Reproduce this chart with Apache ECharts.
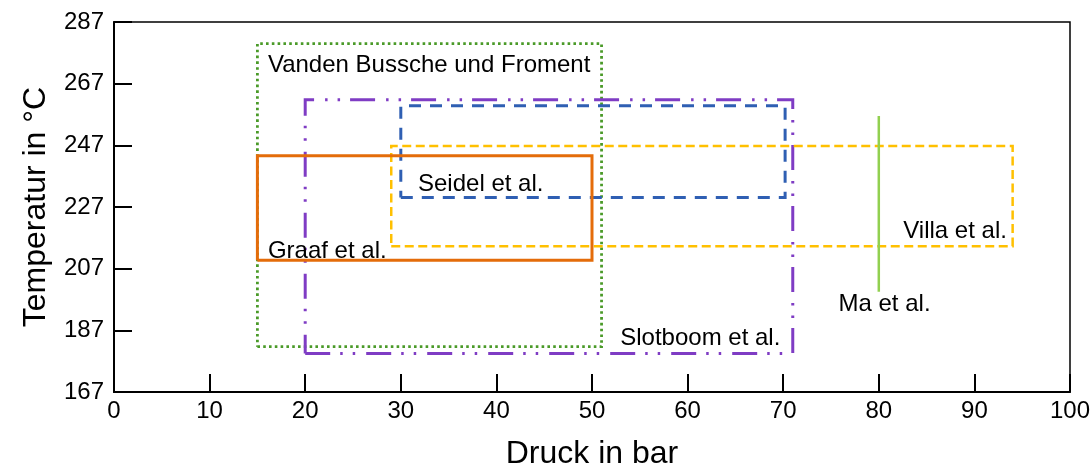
<!DOCTYPE html>
<html>
<head>
<meta charset="utf-8">
<script src="https://cdn.jsdelivr.net/npm/echarts@6/dist/echarts.min.js"></script>
<style>
  html, body { margin: 0; padding: 0; background: #fff; }
  #chart { width: 1090px; height: 466px; }
</style>
</head>
<body>
<div id="chart"></div>
<script>
// Axis ranges / ticks
const xTicks = [0, 10, 20, 30, 40, 50, 60, 70, 80, 90, 100];
const yTicks = [167, 187, 207, 227, 247, 267, 287];

// Study ranges: [pMin, pMax, Tmin, Tmax]
const vandenBussche = [15, 51, 181.7, 280];
const slotboom = [20, 71, 179.5, 261.8];
const seidel = [30, 70.2, 230.1, 259.8];
const villa = [29, 94, 214.3, 246.8];
const graaf = [15, 50, 209.7, 243.6];
const ma = [80, 80, 199.5, 256.5];

// Label texts and anchor points [x, y]
const labelNames = ['Vanden Bussche und Froment', 'Seidel et al.', 'Graaf et al.', 'Villa et al.', 'Ma et al.', 'Slotboom et al.'];
const labelPoints = [[16.1, 273], [31.8, 234.5], [16.1, 212.7], [93.4, 219.2], [80.6, 195.5], [69.7, 184.5]];
const labelAligns = ['left', 'left', 'left', 'right', 'center', 'right'];

function rect(r) {
  return [[r[0], r[2]], [r[1], r[2]], [r[1], r[3]], [r[0], r[3]], [r[0], r[2]]];
}
function seg(r) {
  return [[r[0], r[2]], [r[1], r[3]]];
}
function lineSeries(name, data, color, width, dash, z) {
  return {
    name: name, type: 'line', data: data, showSymbol: false, symbol: 'none',
    silent: true, animation: false, z: z || 2,
    lineStyle: { color: color, width: width, type: dash, cap: 'butt', join: 'miter' }
  };
}

const FONT = '"Liberation Sans", Arial, sans-serif';

const chart = echarts.init(document.getElementById('chart'), null, { renderer: 'canvas' });
chart.setOption({
  animation: false,
  backgroundColor: '#fff',
  grid: {
    left: 114, right: 20, top: 22, bottom: 74, containLabel: false, outerBoundsMode: 'none',
    show: true, borderColor: '#000', borderWidth: 1.5, backgroundColor: 'transparent'
  },
  xAxis: {
    type: 'value', min: xTicks[0], max: xTicks[xTicks.length - 1], interval: 10,
    name: 'Druck in bar', nameLocation: 'middle', nameGap: 46,
    nameTextStyle: { fontFamily: FONT, fontSize: 32, color: '#000' },
    axisLine: { show: true, lineStyle: { color: '#000', width: 2 } },
    axisTick: { show: true, inside: true, length: 18, lineStyle: { color: '#000', width: 2 } },
    axisLabel: { fontFamily: FONT, fontSize: 24, color: '#000', margin: 7 },
    splitLine: { show: false }
  },
  yAxis: {
    type: 'value', min: yTicks[0], max: yTicks[yTicks.length - 1], interval: 20,
    name: 'Temperatur in °C', nameLocation: 'middle', nameGap: 62,
    nameTextStyle: { fontFamily: FONT, fontSize: 32, color: '#000' },
    axisLine: { show: true, lineStyle: { color: '#000', width: 2 } },
    axisTick: { show: true, inside: true, length: 18, lineStyle: { color: '#000', width: 2 } },
    axisLabel: { fontFamily: FONT, fontSize: 24, color: '#000', margin: 10 },
    splitLine: { show: false }
  },
  series: [
    lineSeries('Vanden Bussche und Froment', rect(vandenBussche), '#4A9A28', 2.8, [2.6, 3.2], 2),
    lineSeries('Slotboom et al.', rect(slotboom), '#7F3CC4', 3, [25, 10, 2.5, 10, 2.5, 11], 3),
    lineSeries('Seidel et al.', rect(seidel), '#2F5FB3', 3, [12, 9], 4),
    lineSeries('Villa et al.', rect(villa), '#FFC000', 2.5, [9, 4.5], 5),
    lineSeries('Graaf et al.', rect(graaf), '#E46C0A', 3, 'solid', 6),
    lineSeries('Ma et al.', seg(ma), '#92D050', 2.5, 'solid', 7),
    {
      type: 'scatter', symbolSize: 1, silent: true, z: 10,
      itemStyle: { color: 'rgba(255,255,255,0)' },
      data: labelPoints.map(function (p, i) {
        return {
          value: p,
          label: {
            show: true, position: 'inside', formatter: labelNames[i], align: labelAligns[i],
            verticalAlign: 'middle', fontFamily: FONT, fontSize: 24, color: '#000',
            opacity: 1, textBorderWidth: 0
          }
        };
      })
    }
  ]
});
</script>
</body>
</html>
